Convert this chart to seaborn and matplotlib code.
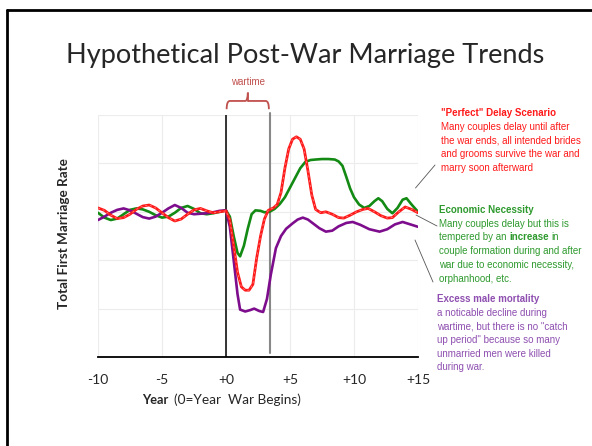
import matplotlib
matplotlib.use("Agg")
import matplotlib.pyplot as plt
import seaborn as sns
import pandas as pd
from matplotlib.lines import Line2D
from matplotlib.path import Path
from matplotlib.patches import PathPatch

# ---------------------------------------------------------
# data
# ---------------------------------------------------------
econ_x = [-10, -9.5, -9, -8.5, -8, -7.5, -7, -6.5, -6, -5.5, -5, -4.5, -4, -3.5, -3,
          -2.5, -2, -1.5, -1, -0.5, 0, 0.3, 0.6, 0.9, 1.1, 1.4, 1.7, 2.0, 2.3, 2.7,
          3.0, 3.4, 3.8, 4.2, 4.6, 5.0, 5.4, 5.8, 6.2, 6.6, 7.0, 7.5, 8.0, 8.5, 8.8,
          9.1, 9.4, 9.7, 10.0, 10.4, 10.8, 11.2, 11.6, 11.9, 12.2, 12.6, 13.0, 13.4,
          13.8, 14.1, 14.5, 15]
econ_y = [2.98, 2.88, 2.83, 2.86, 2.95, 3.04, 3.07, 3.05, 3.0, 2.93, 2.88, 2.9, 2.98,
          3.08, 3.12, 3.06, 2.97, 2.95, 2.97, 3.0, 3.03, 2.9, 2.5, 2.15, 2.08, 2.3,
          2.65, 2.95, 3.03, 3.02, 2.99, 3.0, 3.06, 3.16, 3.3, 3.5, 3.7, 3.9, 4.03,
          4.07, 4.08, 4.09, 4.09, 4.08, 4.04, 3.95, 3.72, 3.48, 3.3, 3.15, 3.08, 3.12,
          3.22, 3.28, 3.22, 3.06, 2.97, 3.08, 3.25, 3.28, 3.15, 3.0]

delay_x = [-10, -9.5, -9, -8.5, -8, -7.5, -7, -6.5, -6, -5.5, -5, -4.5, -4, -3.5, -3,
           -2.5, -2, -1.5, -1, -0.5, 0, 0.3, 0.6, 0.9, 1.2, 1.5, 1.8, 2.1, 2.4, 2.7,
           3.0, 3.3, 3.7, 4.0, 4.3, 4.6, 4.9, 5.2, 5.5, 5.8, 6.1, 6.4, 6.7, 7.0, 7.4,
           7.8, 8.3, 8.8, 9.2, 9.7, 10.2, 10.7, 11.1, 11.6, 12.1, 12.6, 13.0, 13.5,
           14.0, 14.5, 15]
delay_y = [3.08, 3.03, 2.93, 2.86, 2.88, 2.95, 3.05, 3.12, 3.14, 3.08, 2.98, 2.88,
           2.81, 2.85, 2.95, 3.04, 3.07, 3.02, 2.98, 3.0, 3.02, 2.83, 2.3, 1.75, 1.45,
           1.38, 1.38, 1.5, 2.05, 2.5, 2.85, 3.03, 3.08, 3.15, 3.4, 3.9, 4.3, 4.5,
           4.55, 4.5, 4.3, 3.85, 3.35, 3.05, 2.98, 3.0, 2.95, 2.88, 2.87, 2.93, 3.0,
           3.05, 3.07, 3.0, 2.92, 2.87, 2.88, 3.0, 3.1, 3.05, 2.98]

mort_x = [-10, -9.5, -9, -8.5, -8, -7.5, -7, -6.5, -6, -5.5, -5, -4.5, -4, -3.5, -3,
          -2.5, -2, -1.5, -1, -0.5, 0, 0.3, 0.6, 0.9, 1.1, 1.5, 1.9, 2.2, 2.6, 2.9,
          3.2, 3.5, 3.9, 4.3, 4.7, 5.2, 5.6, 6.0, 6.4, 6.8, 7.3, 7.8, 8.3, 8.8, 9.4,
          9.9, 10.5, 11.2, 12.0, 12.6, 13.2, 13.8, 14.4, 15]
mort_y = [2.83, 2.9, 2.98, 3.04, 3.07, 3.03, 2.96, 2.89, 2.86, 2.9, 2.98, 3.07, 3.14,
          3.08, 2.98, 2.95, 2.96, 2.97, 2.99, 3.02, 3.03, 2.69, 2.0, 1.3, 0.98, 0.94,
          0.97, 1.0, 0.95, 0.93, 1.2, 1.7, 2.25, 2.5, 2.65, 2.76, 2.84, 2.88, 2.84,
          2.76, 2.66, 2.59, 2.61, 2.7, 2.77, 2.79, 2.73, 2.64, 2.59, 2.64, 2.74, 2.79,
          2.74, 2.69]

tick_pos = [-10, -5, 0, 5, 10, 15]
tick_lbl = ['-10', '-5', '+0', '+5', '+10', '+15']
war_start, war_end = 0, 3.4

title = "Hypothetical Post-War Marriage Trends"

delay_head = '"Perfect" Delay Scenario'
delay_body = ["Many couples delay until after", "the war ends, all intended brides",
              "and grooms survive the war and", "marry soon afterward"]
econ_head = "Economic Necessity"
econ_body = ["Many couples delay but this is", "tempered by an", "couple formation during and after",
             "war due to economic necessity,", "orphanhood, etc."]
mort_head = "Excess male mortality"
mort_body = ["a noticable decline during", 'wartime, but there is no "catch',
             'up period" because so many', "unmarried men were killed", "during war."]

RED = "#ff1a1a"
GREEN = "#138a13"
PURPLE = "#7d0d8c"
NARROW = ["Liberation Sans Narrow", "Liberation Sans", "DejaVu Sans"]
NOTE_FS = 7

# ---------------------------------------------------------
# figure
# ---------------------------------------------------------
sns.set_style("white")
plt.rcParams['font.family'] = ['Lato', 'DejaVu Sans']

fig = plt.figure(figsize=(5.92, 4.46), dpi=100)
W, H = 592, 446
ax = fig.add_axes([98 / W, 1 - 357 / H, 320 / W, 242 / H])

df_e = pd.DataFrame({"x": econ_x, "y": econ_y})
df_d = pd.DataFrame({"x": delay_x, "y": delay_y})
df_m = pd.DataFrame({"x": mort_x, "y": mort_y})

sns.lineplot(data=df_e, x="x", y="y", ax=ax, color=GREEN, lw=1.9, zorder=3)
sns.lineplot(data=df_m, x="x", y="y", ax=ax, color=PURPLE, lw=1.9, zorder=3)
sns.lineplot(data=df_d, x="x", y="y", ax=ax, color=RED, lw=2.0, zorder=4)
sns.lineplot(data=df_d, x="x", y="y", ax=ax, color="white", lw=0.5, alpha=0.5,
             linestyle=(0, (3, 4)), zorder=5)

ax.set_xlim(-10, 15)
ax.set_ylim(0, 5)
ax.set_xticks(tick_pos)
ax.set_xticklabels(tick_lbl, fontsize=10)
ax.set_yticks([1, 2, 3, 4, 5])
ax.set_yticklabels([])
ax.grid(True, color="#ececec", lw=0.8)
ax.set_axisbelow(True)
for s in ["top", "right", "left"]:
    ax.spines[s].set_visible(False)
ax.spines["bottom"].set_color("black")
ax.spines["bottom"].set_linewidth(1.3)
ax.tick_params(axis="x", length=4, color="#bbbbbb", pad=8)
ax.tick_params(axis="y", length=4, color="#bbbbbb", direction="inout")
ax.set_xlabel("")
ax.set_ylabel("Total First Marriage Rate", fontsize=9.7, fontweight="bold")
ax.yaxis.set_label_coords(-0.088, 0.51)

# war start / end lines
ax.axvline(war_start, color="black", lw=1.1, zorder=2)
ax.plot([war_end, war_end], [0.08, 5.05], color="#888888", lw=1.5, zorder=2, clip_on=False)

# wartime brace
mid = (war_start + war_end) / 2
verts = [(war_start + 0.05, 5.12), (war_start + 0.05, 5.29), (war_start + 0.3, 5.29),
         (mid - 0.2, 5.29), (mid, 5.29), (mid, 5.46),
         (mid, 5.29), (mid + 0.2, 5.29),
         (war_end - 0.3, 5.29), (war_end - 0.05, 5.29), (war_end - 0.05, 5.12)]
codes = [Path.MOVETO, Path.CURVE3, Path.CURVE3, Path.LINETO, Path.CURVE3, Path.CURVE3,
         Path.MOVETO, Path.LINETO, Path.LINETO, Path.CURVE3, Path.CURVE3]
ax.add_patch(PathPatch(Path(verts, codes), fill=False, edgecolor="#c0504d", lw=1.3,
                       clip_on=False))
ax.plot([mid, mid], [5.29, 5.46], color="#c0504d", lw=1.3, clip_on=False)
ax.text(mid, 5.68, "wartime", ha="center", va="center", color="#c0504d", fontsize=NOTE_FS,
        family=NARROW)

# title and x label
fig.text(305 / W, 1 - 55 / H, title, ha="center", va="center", fontsize=19.5)
fig.text(141.7 / W, 1 - 400 / H, "Year", ha="left", va="center", fontsize=9.2, fontweight="bold")
fig.text(174 / W, 1 - 400 / H, "(0=Year  War Begins)", ha="left", va="center", fontsize=9.8)

# right-hand notes
def note(x, y0, head, body, color):
    fig.text(x / W, 1 - y0 / H, head, color=color, fontsize=NOTE_FS, fontweight="bold",
             family=NARROW, va="center", ha="left")
    out = []
    for i, line in enumerate(body):
        t = fig.text(x / W, 1 - (y0 + 13.7 * (i + 1)) / H, line, color=color, fontsize=NOTE_FS,
                     family=NARROW, va="center", ha="left")
        out.append(t)
    return out

note(441, 113, delay_head, delay_body, RED)
econ_txt = note(439, 210, econ_head, econ_body, "#2e9a2e")
inc = ax.annotate("increase", xy=(1, 0), xycoords=econ_txt[1], xytext=(2.0, 0),
                  textcoords="offset points", va="bottom", ha="left", color="#2e9a2e",
                  fontsize=NOTE_FS, fontweight="bold", family=NARROW)
ax.annotate("in", xy=(1, 0), xycoords=inc, xytext=(2.0, 0), textcoords="offset points",
            va="bottom", ha="left", color="#2e9a2e", fontsize=NOTE_FS, family=NARROW)
note(437, 299, mort_head, mort_body, "#8e4fb0")

# connector lines (figure pixels)
for (x1, y1), (x2, y2) in [((435, 165), (415.5, 188)), ((416, 215), (437, 226)),
                           ((415, 240), (433, 282))]:
    fig.add_artist(Line2D([x1 / W, x2 / W], [1 - y1 / H, 1 - y2 / H], color="#555555", lw=0.6))

# slide frame
fig.add_artist(Line2D([7 / W, 1], [1 - 10 / H, 1 - 10 / H], color="black", lw=2))
fig.add_artist(Line2D([7 / W, 7 / W], [1 - 10 / H, 0], color="black", lw=2))

fig.savefig("out.png", dpi=100)
